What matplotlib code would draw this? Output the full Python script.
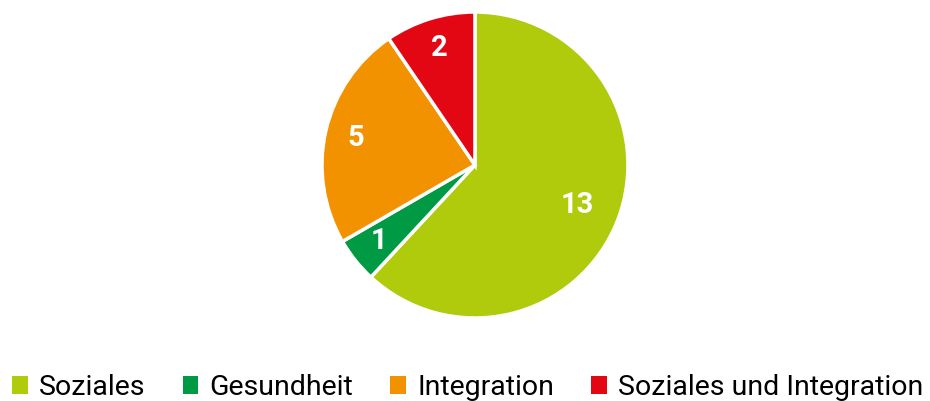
import matplotlib.pyplot as plt
from matplotlib.patches import Patch
import numpy as np

# data
categories = ["Soziales", "Gesundheit", "Integration", "Soziales und Integration"]
values = [13, 1, 5, 2]
colors = ["#B0CB0B", "#009A44", "#F39200", "#E30613"]

fig = plt.figure(figsize=(9.3, 4.01), dpi=100)
ax = fig.add_axes([0.3462, 0.2070, 0.3290, 0.7631])

wedges, texts = ax.pie(values, colors=colors, startangle=90, counterclock=False,
                       wedgeprops=dict(edgecolor="white", linewidth=2.5))
ax.set_xlim(-1.0, 1.0)
ax.set_ylim(-1.0, 1.0)
ax.set_aspect("equal")

# value labels inside the slices
total = sum(values)
start = 90.0
for v in values:
    mid = start - 360.0 * v / total / 2
    r = 0.72 if v > 10 else 0.80
    x = r * np.cos(np.radians(mid))
    y = r * np.sin(np.radians(mid))
    ax.text(x, y, str(v), ha="center", va="center", color="white",
            fontsize=21, fontweight="bold", family=["Roboto", "DejaVu Sans"])
    start -= 360.0 * v / total

handles = [Patch(facecolor=c, edgecolor="none") for c in colors]
fig.legend(handles, categories, loc="center", bbox_to_anchor=(0.503, 0.033),
           ncol=4, frameon=False, handlelength=0.55, handleheight=0.6,
           handletextpad=0.4, columnspacing=1.3, borderpad=0, borderaxespad=0,
           prop=dict(family=["Roboto", "DejaVu Sans"], size=20.5))

fig.savefig("out.png", dpi=100)
